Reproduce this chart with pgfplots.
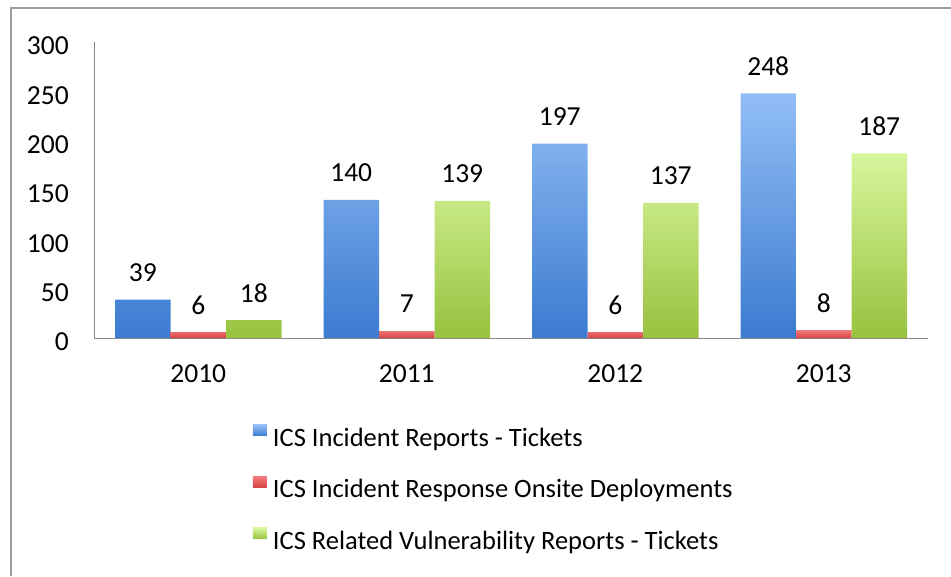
\documentclass[border=0pt]{standalone}
\usepackage{fontspec}
\setmainfont{Carlito}
\usepackage{pgfplots}
\pgfplotsset{compat=1.18}
\definecolor{bluetop}{HTML}{92BEF6}
\definecolor{bluebot}{HTML}{3C7BD0}
\definecolor{redtop}{HTML}{F27A7A}
\definecolor{redbot}{HTML}{D84444}
\definecolor{greentop}{HTML}{D6F69C}
\definecolor{greenbot}{HTML}{98C23F}
\newcommand{\bigf}{\fontsize{27.5}{33}\selectfont}
\newcommand{\legf}{\fontsize{26.5}{32}\selectfont}
\begin{document}
\begin{tikzpicture}[x=1pt,y=1pt]
\path[use as bounding box] (0,0) rectangle (951,576);
\draw[line width=2pt, color=black!38] (11,0) -- (11,568) -- (951,568);
\begin{axis}[
  at={(94pt,238pt)}, anchor=south west,
  scale only axis, width=834pt, height=296pt,
  xmin=-0.5, xmax=3.5, ymin=0, ymax=300,
  ybar=0pt, bar width=55.5pt,
  axis x line*=bottom, axis y line*=left,
  axis line style={draw=black!47, line width=1pt},
  major tick length=0pt,
  xtick={0,1,2,3}, xticklabels={2010,2011,2012,2013},
  ytick={0,50,100,150,200,250,300},
  /pgf/number format/assume math mode=true,
  every tick label/.append style={font=\bigf, text=black},
  yticklabel style={anchor=east, inner sep=0pt, xshift=-25pt, yshift=-4pt},
  xticklabel style={anchor=center, inner sep=0pt, yshift=-36pt},
  nodes near coords,
  nodes near coords style={anchor=center, yshift=27pt, inner sep=0pt, font=\bigf, text=black},
  legend cell align=left,
  legend image code/.code={\fill[#1] (0pt,4pt) rectangle (14pt,15pt);},
  legend style={draw=none, fill=none, inner sep=0pt, outer sep=0pt,
    at={(0.1906,-0.2939)}, anchor=north west,
    row sep=25pt, column sep=6pt,
    nodes={inner sep=0pt, text height=18pt, text depth=5pt, font=\legf, text=black}},
]
\addplot[draw=none, top color=bluetop, bottom color=bluebot] coordinates {(0,39) (1,140) (2,197) (3,248)};
\addplot[draw=none, top color=redtop, bottom color=redbot] coordinates {(0,6) (1,7) (2,6) (3,8)};
\addplot[draw=none, top color=greentop, bottom color=greenbot] coordinates {(0,18) (1,139) (2,137) (3,187)};
\legend{ICS Incident Reports - Tickets, ICS Incident Response Onsite Deployments, ICS Related Vulnerability Reports - Tickets}
\end{axis}
\end{tikzpicture}
\end{document}
